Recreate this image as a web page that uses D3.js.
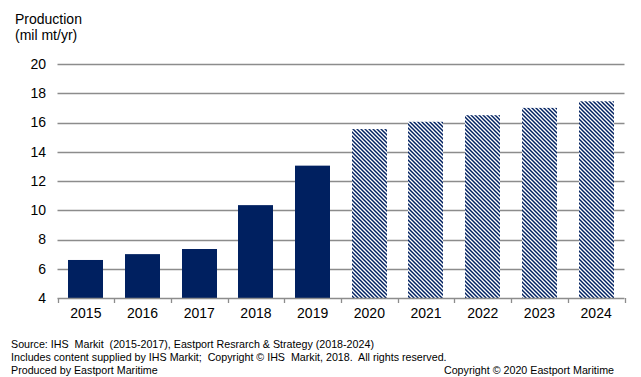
<!DOCTYPE html>
<html>
<head>
<meta charset="utf-8">
<script src="https://cdn.jsdelivr.net/npm/d3@7"></script>
<style>
  body { margin: 0; background: #fff; }
  text { font-family: "Liberation Sans", Arial, sans-serif; fill: #000; }
</style>
</head>
<body>
<svg id="chart" width="641" height="377"></svg>
<script>
var years = ["2015","2016","2017","2018","2019","2020","2021","2022","2023","2024"];
var production = [6.6, 7.0, 7.35, 10.35, 13.05, 15.55, 16.05, 16.5, 17.0, 17.45];
var forecast = [false, false, false, false, false, true, true, true, true, true];
var yTicks = [4, 6, 8, 10, 12, 14, 16, 18, 20];

var svg = d3.select("#chart");
var navy = "#002060";
var plotLeft = 57.5, plotRight = 624.5, plotTop = 64, plotBottom = 298;

//Hatch pattern for forecast bars
var pat = svg.append("defs").append("pattern")
  .attr("id", "hatch")
  .attr("patternUnits", "userSpaceOnUse")
  .attr("width", 4)
  .attr("height", 4);
pat.append("rect").attr("width", 4).attr("height", 4).attr("fill", "#fff");
pat.append("path")
  .attr("d", "M-1,-1L5,5M-1,3L1,5M3,-1L5,1")
  .attr("stroke", navy)
  .attr("stroke-width", 1.45);

var x = d3.scaleBand()
  .domain(years)
  .range([plotLeft, plotRight])
  .paddingInner(0.38)
  .paddingOuter(0.19);
var y = d3.scaleLinear()
  .domain([4, 20])
  .range([plotBottom, plotTop]);

//Gridlines
svg.append("g")
  .selectAll("line")
  .data(yTicks.slice(1))
  .enter()
  .append("line")
  .attr("x1", plotLeft)
  .attr("x2", plotRight)
  .attr("y1", function(d) { return Math.round(y(d)) + 0.5; })
  .attr("y2", function(d) { return Math.round(y(d)) + 0.5; })
  .attr("stroke", "#8c8c8c")
  .attr("stroke-width", 1.3);

//Bars
svg.append("g")
  .selectAll("rect")
  .data(years)
  .enter()
  .append("rect")
  .attr("x", function(d) { return Math.round(x(d)); })
  .attr("width", Math.round(x.bandwidth()))
  .attr("y", function(d, i) { return y(production[i]); })
  .attr("height", function(d, i) { return y(4) - y(production[i]); })
  .attr("fill", function(d, i) { return forecast[i] ? "url(#hatch)" : navy; });

//X axis
var xAxis = svg.append("g")
  .attr("transform", "translate(0," + (plotBottom + 0.5) + ")")
  .call(d3.axisBottom(x).tickSize(0).tickPadding(10));
xAxis.select(".domain").attr("stroke", "#8c8c8c").attr("stroke-width", 1.3)
  .attr("d", "M" + plotLeft + ",0H" + plotRight);
xAxis.selectAll("text")
  .style("font-size", "14px")
  .style("font-family", "Liberation Sans, Arial, sans-serif");
svg.append("g")
  .selectAll("line")
  .data(d3.range(years.length + 1))
  .enter()
  .append("line")
  .attr("x1", function(i) { return Math.round(plotLeft + i * x.step()) + 0.5; })
  .attr("x2", function(i) { return Math.round(plotLeft + i * x.step()) + 0.5; })
  .attr("y1", plotBottom)
  .attr("y2", plotBottom + 5)
  .attr("stroke", "#8c8c8c")
  .attr("stroke-width", 1.3);

//Y axis labels
svg.append("g")
  .selectAll("text")
  .data(yTicks)
  .enter()
  .append("text")
  .attr("x", 46)
  .attr("y", function(d) { return y(d); })
  .attr("dy", "0.35em")
  .attr("text-anchor", "end")
  .style("font-size", "14px")
  .text(function(d) { return d; });

//Y title
svg.append("text").attr("x", 15).attr("y", 24).style("font-size", "14px").text("Production");
svg.append("text").attr("x", 15).attr("y", 40).style("font-size", "14px").text("(mil mt/yr)");

//Footer
var notes = [
  "Source: IHS  Markit  (2015-2017), Eastport Resrarch & Strategy (2018-2024)",
  "Includes content supplied by IHS Markit;  Copyright © IHS  Markit, 2018.  All rights reserved.",
  "Produced by Eastport Maritime"
];
svg.append("g")
  .selectAll("text")
  .data(notes)
  .enter()
  .append("text")
  .attr("x", 11)
  .attr("y", function(d, i) { return 348 + i * 13; })
  .style("font-size", "10.7px")
  .style("white-space", "pre")
  .text(function(d) { return d; });
svg.append("text")
  .attr("x", 614)
  .attr("y", 374)
  .attr("text-anchor", "end")
  .style("font-size", "10.7px")
  .text("Copyright © 2020 Eastport Maritime");
</script>
</body>
</html>
